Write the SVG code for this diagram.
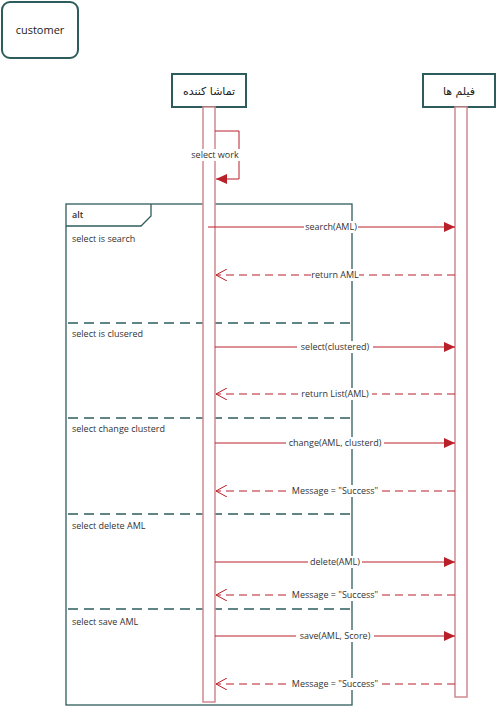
<svg xmlns="http://www.w3.org/2000/svg" width="498" height="707" viewBox="0 0 498 707">
<defs>
<style>
.box{fill:#fff;stroke:#2e5c5c;stroke-width:2}
.frame{fill:none;stroke:#2e5c5c;stroke-width:1.3}
.div{stroke:#2e5c5c;stroke-width:1.3;stroke-dasharray:10,6}
.bar{fill:#fff;stroke:#d08a90;stroke-width:1.5}
.msg{stroke:#b8202a;stroke-width:1;fill:none}
.ret{stroke:#b8202a;stroke-width:1.1;stroke-dasharray:8,5;fill:none}
.t{font-family:"Open Sans","DejaVu Sans",sans-serif;font-size:9px;fill:#333}
.tm{font-family:"Open Sans","DejaVu Sans",sans-serif;font-size:9px;fill:#333;text-anchor:middle}
.tn{font-family:"DejaVu Sans","Noto Sans",sans-serif;font-size:11px;fill:#222;text-anchor:middle}
.bg{fill:#fff}
</style>
<marker id="fill" markerWidth="12" markerHeight="10" refX="11" refY="5" orient="auto" markerUnits="userSpaceOnUse">
<path d="M0,0 L11,5 L0,10 Z" fill="#b8202a"/>
</marker>
<marker id="open" markerWidth="12" markerHeight="12" refX="11" refY="6" orient="auto" markerUnits="userSpaceOnUse">
<path d="M0,0 L11,6 L0,12" fill="none" stroke="#b8202a" stroke-width="1"/>
</marker>
</defs>
<rect width="498" height="707" fill="#fff"/>

<g id="customer">
<rect class="box" x="2" y="2" width="76" height="56" rx="8"/>
<text class="tn" x="40" y="34" style="font-family:'Open Sans',sans-serif;font-size:11px">customer</text>
</g>

<g id="alt">
<rect class="frame" x="66" y="204" width="286" height="501"/>
<path class="frame" d="M66,226 L141,226 L151,216 L151,204"/>
<text class="t" x="72" y="218" style="font-weight:600">alt</text>
<text class="t" x="72" y="242">select is search</text>
<line class="div" x1="68" y1="323" x2="352" y2="323"/>
<text class="t" x="72" y="337">select is clusered</text>
<line class="div" x1="68" y1="418" x2="352" y2="418"/>
<text class="t" x="72" y="432">select change clusterd</text>
<line class="div" x1="68" y1="514" x2="352" y2="514"/>
<text class="t" x="72" y="529">select delete AML</text>
<line class="div" x1="68" y1="609" x2="352" y2="609"/>
<text class="t" x="72" y="625">select save AML</text>
</g>

<g id="lifeline1">
<rect class="box" x="172" y="74" width="74" height="33"/>
<text class="tn" x="209" y="95">تماشا کننده</text>
<rect class="bar" x="203" y="107" width="12" height="595"/>
</g>

<g id="lifeline2">
<rect class="box" x="423" y="74" width="72" height="33"/>
<text class="tn" x="459" y="95">فیلم ها</text>
<rect class="bar" x="455" y="107" width="12" height="590"/>
</g>

<g id="connectors">
<path class="msg" d="M215,131 L239,131 L239,179 L216,179" marker-end="url(#fill)"/>
<rect class="bg" x="190" y="149" width="50" height="12"/>
<text class="tm" x="215" y="158">select work</text>

<line class="msg" x1="208" y1="227" x2="455" y2="227" marker-end="url(#fill)"/>
<rect class="bg" x="304" y="221" width="54" height="12"/>
<text class="tm" x="331" y="230">search(AML)</text>

<line class="ret" x1="455" y1="275" x2="216" y2="275" marker-end="url(#open)"/>
<rect class="bg" x="311" y="269" width="48" height="12"/>
<text class="tm" x="335" y="278">return AML</text>

<line class="msg" x1="215" y1="347" x2="455" y2="347" marker-end="url(#fill)"/>
<rect class="bg" x="297" y="341" width="76" height="12"/>
<text class="tm" x="335" y="350">select(clustered)</text>

<line class="ret" x1="455" y1="394" x2="216" y2="394" marker-end="url(#open)"/>
<rect class="bg" x="298" y="388" width="74" height="12"/>
<text class="tm" x="335" y="397">return List(AML)</text>

<line class="msg" x1="215" y1="443" x2="455" y2="443" marker-end="url(#fill)"/>
<rect class="bg" x="286" y="437" width="98" height="12"/>
<text class="tm" x="335" y="446">change(AML, clusterd)</text>

<line class="ret" x1="455" y1="491" x2="216" y2="491" marker-end="url(#open)"/>
<rect class="bg" x="289" y="485" width="92" height="12"/>
<text class="tm" x="335" y="494">Message = "Success"</text>

<line class="msg" x1="215" y1="562" x2="455" y2="562" marker-end="url(#fill)"/>
<rect class="bg" x="308" y="556" width="54" height="12"/>
<text class="tm" x="335" y="565">delete(AML)</text>

<line class="ret" x1="455" y1="595" x2="216" y2="595" marker-end="url(#open)"/>
<rect class="bg" x="289" y="589" width="92" height="12"/>
<text class="tm" x="335" y="598">Message = "Success"</text>

<line class="msg" x1="215" y1="636" x2="455" y2="636" marker-end="url(#fill)"/>
<rect class="bg" x="296" y="630" width="78" height="12"/>
<text class="tm" x="335" y="639">save(AML, Score)</text>

<line class="ret" x1="455" y1="684" x2="216" y2="684" marker-end="url(#open)"/>
<rect class="bg" x="289" y="678" width="92" height="12"/>
<text class="tm" x="335" y="687">Message = "Success"</text>
</g>
</svg>
